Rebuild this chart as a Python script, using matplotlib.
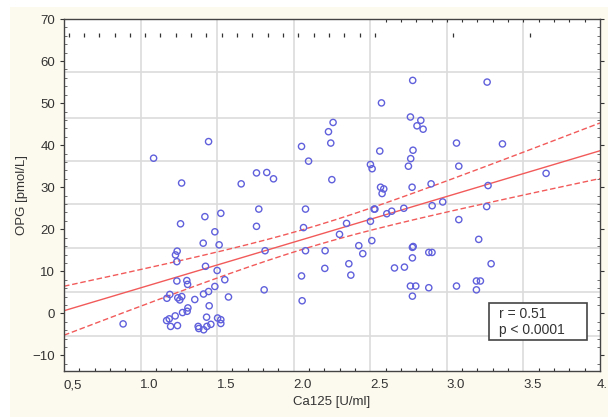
import numpy as np
import matplotlib
matplotlib.use('Agg')
import matplotlib.pyplot as plt
import matplotlib.transforms as mtransforms
from matplotlib.patches import Rectangle

plt.rcParams['font.family'] = ['Liberation Sans', 'DejaVu Sans']

# Ca125 [U/ml] and OPG [pmol/L]
ca125 = [0.886, 1.085, 1.268, 1.444, 1.657, 1.757, 1.824, 1.868, 1.420, 1.524,
         1.772, 1.261, 1.757, 1.485, 1.409, 1.513, 1.239, 1.228, 1.237, 1.424,
         1.500, 1.550, 1.237, 1.302, 1.307, 1.485, 1.444, 1.411, 1.574, 1.191,
         1.172, 1.243, 1.256, 1.269, 1.354, 1.309, 1.304, 1.448, 1.274, 1.226,
         1.170, 1.187, 1.196, 1.241, 1.431, 1.503, 1.524, 1.524, 1.459, 1.433,
         1.376, 1.380, 1.412, 1.807, 2.055, 2.051, 2.064, 2.077, 2.077, 1.813,
         2.051, 2.097, 2.257, 2.227, 2.242, 2.249, 2.205, 2.203, 2.299, 2.345,
         2.360, 2.373, 2.425, 2.451, 2.510, 2.501, 2.525, 2.530, 2.501, 2.512,
         2.562, 2.573, 2.567, 2.588, 2.577, 2.608, 2.640, 2.719, 2.658, 2.723,
         2.749, 2.764, 2.779, 2.762, 2.777, 2.805, 2.830, 2.845, 2.773, 2.775,
         2.780, 2.775, 2.762, 2.797, 2.775, 2.882, 2.903, 2.882, 2.897, 2.904,
         2.973, 3.063, 3.078, 3.078, 3.063, 3.208, 3.193, 3.219, 3.193, 3.263,
         3.269, 3.260, 3.289, 3.363, 3.648]
opg = [-2.5, 36.9, 31.0, 40.85, 30.8, 33.4, 33.5, 32.0, 23.0, 23.8,
       24.8, 21.3, 20.7, 19.4, 16.7, 16.3, 14.8, 13.9, 12.3, 11.2,
       10.2, 8.0, 7.7, 7.8, 6.9, 6.4, 5.2, 4.6, 3.9, 4.5,
       3.6, 3.7, 3.2, 4.0, 3.3, 1.3, 0.5, 1.8, 0.2, -0.6,
       -1.7, -1.3, -3.1, -2.9, -0.9, -1.1, -1.5, -2.4, -2.6, -3.1,
       -3.1, -3.6, -3.9, 5.6, 3.0, 8.9, 20.4, 24.8, 14.9, 14.9,
       39.7, 36.2, 45.4, 43.2, 40.5, 31.8, 14.9, 10.7, 18.8, 21.4,
       11.8, 9.1, 16.1, 14.2, 17.3, 21.9, 24.8, 24.8, 35.4, 34.4,
       38.6, 50.05, 30.0, 29.6, 28.5, 23.7, 24.3, 25.0, 10.8, 11.0,
       35.0, 36.8, 38.8, 46.7, 55.4, 44.6, 45.9, 43.8, 30.0, 15.7,
       15.9, 13.2, 6.5, 6.5, 4.1, 14.5, 14.5, 6.1, 30.8, 25.6,
       26.5, 40.5, 35.0, 22.3, 6.5, 17.6, 7.7, 7.7, 5.6, 55.0,
       30.4, 25.4, 11.8, 40.3, 33.3]

x_ticks = [0.5, 1.0, 1.5, 2.0, 2.5, 3.0, 3.5, 4.0]
x_labels = ['0,5', '1.0', '1.5', '2.0', '2.5', '3.0', '3.5', '4.']
y_ticks = [-10, 0, 10, 20, 30, 40, 50, 60, 70]
# the grid in the scan sits a little off the y ticks
grid_y = [57.4, 46.4, 36.3, 26.0, 15.5, 5.1, -5.4]
grid_x = [1.0, 1.5, 2.0, 2.5, 3.0, 3.5]
stats_text = 'r = 0.51\np < 0.0001'

x = np.array(ca125)
y = np.array(opg)

# linear fit and 95% band of the mean
b, a = np.polyfit(x, y, 1)
n = len(x)
resid = y - (a + b * x)
s = np.sqrt(np.sum(resid**2) / (n - 2))
sxx = np.sum((x - x.mean())**2)
xs = np.linspace(0.5, 4.0, 200)
ys = a + b * xs
half = 1.98 * s * np.sqrt(1.0 / n + (xs - x.mean())**2 / sxx)

fig = plt.figure(figsize=(6.08, 4.17), dpi=100, facecolor='white')
fig.patches.append(Rectangle((10 / 608, 0), 1, 1 - 7 / 417, transform=fig.transFigure,
                             facecolor='#fcf9ee', edgecolor='none', zorder=-10))
ax = fig.add_axes([64 / 608, 46 / 417, 536 / 608, 352 / 417])
ax.set_facecolor('white')

for gx in grid_x:
    ax.axvline(gx, color='#dcdcdc', lw=1.2, zorder=0)
for gy in grid_y:
    ax.axhline(gy, color='#dcdcdc', lw=1.2, zorder=0)

ax.plot(xs, ys, color='#f25a5a', lw=1.0, zorder=2)
ax.plot(xs, ys + half, color='#f25a5a', lw=1.0, ls=(0, (4, 2)), zorder=2)
ax.plot(xs, ys - half, color='#f25a5a', lw=1.0, ls=(0, (4, 2)), zorder=2)

ax.scatter(x, y, s=20, facecolors='none', edgecolors='#6060dc', linewidths=1.0, zorder=3)

# row of stray tick marks near the top of the scan
rug_x = list(np.arange(0.53, 2.6, 0.1)) + [3.04, 3.54]
ax.plot(rug_x, [66.2] * len(rug_x), ls='none', marker='|', ms=3, mew=0.9, color='#333333')

ax.set_xlim(0.5, 4.0)
ax.set_ylim(-13.7, 70)
ax.set_xticks(x_ticks)
ax.set_xticklabels(x_labels)
ax.set_yticks(y_ticks)
ax.set_xticks(np.arange(0.6, 4.0, 0.1), minor=True)
ax.set_yticks(np.arange(-12, 70, 2), minor=True)
ax.tick_params(axis='both', which='major', labelsize=9.5, colors='#333333', length=3, width=0.8)
ax.tick_params(axis='x', which='major', length=0, pad=6)
ax.tick_params(axis='x', which='minor', direction='in', length=2.5, width=0.8, color='#333333')
ax.tick_params(axis='y', which='minor', direction='in', length=2, width=0.6, color='#555555',
               right=True)
ax.tick_params(axis='y', which='major', right=True)
labels = ax.get_xticklabels()
for i, lab in enumerate(labels):
    dx = 9 if i < len(labels) - 1 else 2
    offset = mtransforms.ScaledTranslation(dx / 100, 0, fig.dpi_scale_trans)
    lab.set_transform(lab.get_transform() + offset)

top = ax.secondary_xaxis('top')
top.set_xticks(np.arange(2.6, 4.0, 0.1))
top.tick_params(direction='in', length=2.5, width=0.8, color='#333333', labeltop=False)
top.spines['top'].set_visible(False)

for sp in ax.spines.values():
    sp.set_color('#444444')
    sp.set_linewidth(1.0)

ax.set_xlabel('Ca125 [U/ml]', fontsize=9.5, color='#333333', labelpad=3)
ax.set_ylabel('OPG [pmol/L]', fontsize=9.5, color='#333333', labelpad=3)

# stats box
ax.add_patch(Rectangle((0.793, 0.088), 0.183, 0.105, transform=ax.transAxes,
                       facecolor='white', edgecolor='#444444', lw=1.2, zorder=4))
ax.text(0.812, 0.14, stats_text, transform=ax.transAxes, fontsize=10, color='#333333',
        va='center', ha='left', linespacing=1.15, zorder=5)

fig.savefig('out.png', dpi=100, facecolor=fig.get_facecolor())
